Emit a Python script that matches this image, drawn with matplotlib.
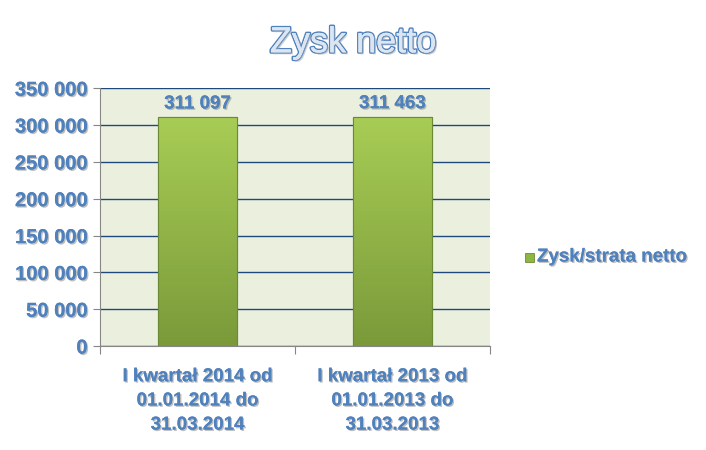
import numpy as np
import matplotlib as mpl
mpl.use('Agg')
from matplotlib import pyplot as plt
from matplotlib import patheffects as pe
from matplotlib.patches import Rectangle

# data
categories = ["I kwartał 2014 od\n01.01.2014 do\n31.03.2014",
              "I kwartał 2013 od\n01.01.2013 do\n31.03.2013"]
values = [311097, 311463]
series_name = "Zysk/strata netto"
title = "Zysk netto"
yticks = list(range(0, 350001, 50000))

BLUE = '#4f81bd'
FONT = ['Liberation Sans Narrow', 'Liberation Sans', 'DejaVu Sans']
shadow = [pe.withSimplePatchShadow(offset=(1, -1), shadow_rgbFace='#7f7f7f', alpha=0.5),
          pe.Normal()]


def fmt(v):
    return f"{v:,}".replace(",", " ")


fig = plt.figure(figsize=(7.06, 4.5), dpi=100)
ax = fig.add_axes([0.1416, 0.231, 0.552, 0.573])
ax.set_facecolor('#ebf0de')

x = np.arange(len(values))
bars = ax.bar(x, values, width=0.405, color='#8db645', edgecolor='#6b8a35',
              linewidth=0.8, zorder=3)

# vertical gradient inside each bar
grad = np.linspace(0, 1, 256).reshape(-1, 1)
cmap = mpl.colors.LinearSegmentedColormap.from_list('g', ['#7a9a3a', '#a8cd55'])
for b in bars:
    x0, w, h = b.get_x(), b.get_width(), b.get_height()
    im = ax.imshow(grad, cmap=cmap, aspect='auto', origin='lower',
                   extent=(x0, x0 + w, 0, h), zorder=3.5)
    im.set_clip_path(b)
    ax.add_patch(Rectangle((x0, 0), w, h, fill=False, edgecolor='#6b8a35',
                           linewidth=0.8, zorder=4))

for xi, v in zip(x, values):
    ax.text(xi, v + 6000, fmt(v), ha='center', va='bottom', color=BLUE,
            fontsize=13.5, fontweight='bold', family=FONT, path_effects=shadow)

ax.set_xlim(-0.5, len(values) - 0.5)
ax.set_ylim(0, 350000)
ax.set_yticks(yticks)
ax.set_yticklabels([fmt(t) for t in yticks], color=BLUE, fontsize=14.5,
                   fontweight='bold', family=FONT)
for lab in ax.get_yticklabels():
    lab.set_path_effects(shadow)
ax.yaxis.grid(True, color='#1f497d', linewidth=1.0, zorder=1)
ax.set_axisbelow(True)

ax.set_xticks([-0.5, 0.5, 1.5])
ax.set_xticklabels([])
ax.set_xticks(x, minor=True)
ax.set_xticklabels(categories, minor=True, color=BLUE, fontsize=13.5,
                   fontweight='bold', family=FONT, linespacing=1.55)
for lab in ax.get_xticklabels(minor=True):
    lab.set_path_effects(shadow)
ax.tick_params(axis='x', which='minor', length=0, pad=16)
ax.tick_params(axis='x', which='major', length=6, color='#868686', direction='out')
ax.tick_params(axis='y', length=5, color='#868686', direction='out', pad=4)

for s in ['top', 'right']:
    ax.spines[s].set_visible(False)
for s in ['left', 'bottom']:
    ax.spines[s].set_color('#868686')

fig.text(0.5, 0.905, title, ha='center', va='center', fontsize=26,
         color='#dce6f2', family=['Liberation Sans', 'DejaVu Sans'],
         path_effects=[pe.withStroke(linewidth=2.2, foreground=BLUE),
                       pe.withSimplePatchShadow(offset=(1.5, -1.5), shadow_rgbFace='#9aa8b8', alpha=0.5),
                       pe.Normal()])

# legend
fig.patches.append(Rectangle((525 / 706, 1 - 262 / 450), 9 / 706, 9 / 450,
                             transform=fig.transFigure, facecolor='#8db645',
                             edgecolor='#6b8a35', linewidth=0.6))
fig.text(537 / 706, 1 - 257 / 450, series_name, ha='left', va='center', color=BLUE,
         fontsize=13.5, fontweight='bold', family=FONT, path_effects=shadow)

fig.savefig('out.png', dpi=100, facecolor='white')
